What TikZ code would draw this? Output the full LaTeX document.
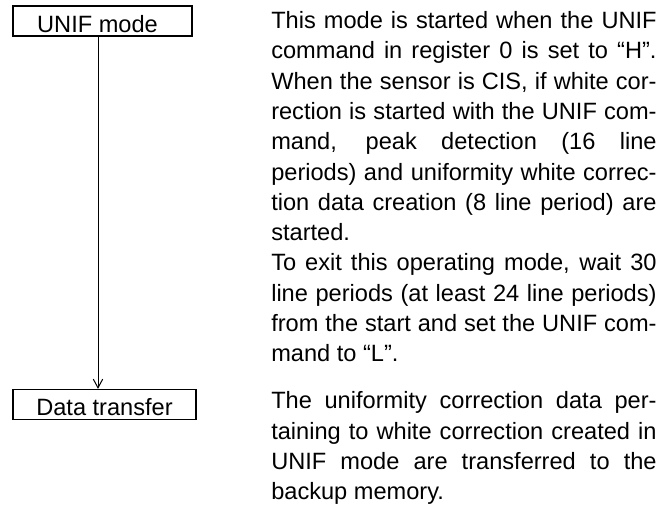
\documentclass[tikz,border=0pt]{standalone}
\usepackage{fontspec}
\setmainfont{Liberation Sans}
\usetikzlibrary{arrows.meta}
\hyphenpenalty=10000
\tolerance=10000
\hbadness=10000

\tikzset{
  modebox/.style={draw, line width=0.9pt, rectangle, inner sep=0pt,
    minimum height=22.5pt, text height=17pt, text depth=0pt,
    font=\fontsize{17.7pt}{22.4pt}\selectfont},
  flowline/.style={line width=0.75pt, -{Straight Barb[length=6.5pt,width=7pt]}},
  desc/.style={anchor=base west, inner sep=0pt, text width=289pt, align=justify,
    font=\fontsize{17.7pt}{22.7pt}\selectfont}
}

\begin{document}
\begin{tikzpicture}[x=0.75pt, y=-0.75pt]
  \useasboundingbox (0,0) rectangle (665,506);
  % flow boxes
  \node[modebox, minimum width=134.25pt] (unif) at (102.5,21) {UNIF mode\hspace*{7.5pt}};
  \node[modebox, minimum width=137.25pt] (xfer) at (104.5,404.5) {Data transfer};
  \coordinate (flowtop) at ([xshift=-3.375pt]unif.south);
  \draw[flowline] (flowtop) -- (flowtop |- xfer.north);
  % descriptions
  \node[desc] (unifdesc) at (271,28.7) {This mode is started when the UNIF\linebreak
    command in register 0 is set to “H”.\linebreak
    When the sensor is CIS, if white cor-\linebreak
    rection is started with the UNIF com-\linebreak
    mand, peak detection (16 line\linebreak
    periods) and uniformity white correc-\linebreak
    tion data creation (8 line period) are\linebreak
    started.\\
    To exit this operating mode, wait 30\linebreak
    line periods (at least 24 line periods)\linebreak
    from the start and set the UNIF com-\linebreak
    mand to “L”.};
  \node[desc] (xferdesc) at (271,409) {The uniformity correction data per-\linebreak
    taining to white correction created in\linebreak
    UNIF mode are transferred to the\linebreak
    backup memory.};
\end{tikzpicture}
\end{document}
